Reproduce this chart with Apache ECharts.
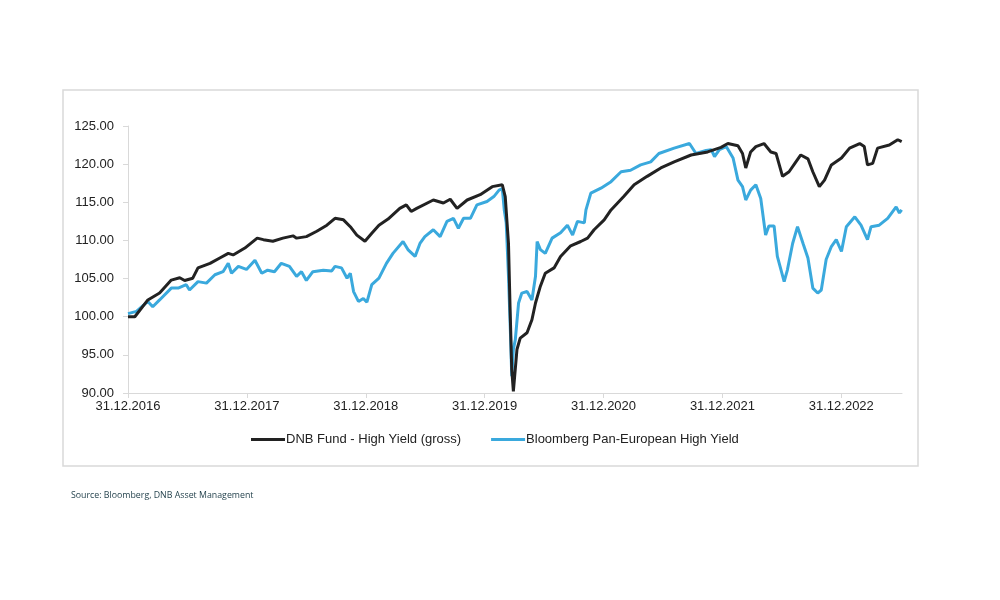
<!DOCTYPE html>
<html>
<head>
<meta charset="utf-8">
<title>DNB Fund - High Yield</title>
<script src="https://cdn.jsdelivr.net/npm/echarts@6/dist/echarts.min.js"></script>
<style>
  html, body { margin: 0; padding: 0; background: #fff; }
  #chart { width: 1000px; height: 600px; }
</style>
</head>
<body>
<div id="chart"></div>
<script>
// --- data ---
const startDate = '2016-12-31';
const endDate = '2023-07-06';

const seriesNames = ['DNB Fund - High Yield (gross)', 'Bloomberg Pan-European High Yield'];

// DNB Fund - High Yield (gross)
const fundSeries = [
    ['2016-12-31', 100.0], ['2017-01-21', 100.0], ['2017-03-02', 102.2], ['2017-04-07', 103.1],
    ['2017-05-13', 104.8], ['2017-06-08', 105.1], ['2017-06-23', 104.75], ['2017-07-18', 105.05],
    ['2017-08-03', 106.4], ['2017-09-09', 107.0], ['2017-10-09', 107.7], ['2017-11-04', 108.3],
    ['2017-11-19', 108.1], ['2017-12-25', 109.0], ['2018-02-01', 110.3], ['2018-02-20', 110.1],
    ['2018-03-21', 109.9], ['2018-04-21', 110.3], ['2018-05-22', 110.6], ['2018-06-02', 110.3],
    ['2018-07-02', 110.5], ['2018-08-03', 111.2], ['2018-09-03', 112.0], ['2018-09-28', 112.9],
    ['2018-10-24', 112.7], ['2018-11-14', 111.8], ['2018-12-04', 110.7], ['2018-12-29', 109.9],
    ['2019-01-19', 110.95], ['2019-02-10', 112.0], ['2019-03-10', 112.8], ['2019-04-15', 114.2],
    ['2019-05-05', 114.66], ['2019-05-20', 113.8], ['2019-06-06', 114.2], ['2019-07-27', 115.3],
    ['2019-08-27', 114.9], ['2019-09-17', 115.4], ['2019-10-08', 114.2], ['2019-11-08', 115.3],
    ['2019-12-18', 116.0], ['2020-01-24', 117.05], ['2020-02-24', 117.3], ['2020-03-04', 115.75],
    ['2020-03-14', 109.6], ['2020-03-19', 100.9], ['2020-03-24', 93.1], ['2020-03-29', 90.2],
    ['2020-04-09', 95.7], ['2020-04-19', 97.2], ['2020-05-10', 97.9], ['2020-05-25', 99.6],
    ['2020-06-05', 101.8], ['2020-06-20', 104.0], ['2020-07-05', 105.7], ['2020-08-01', 106.4],
    ['2020-08-21', 107.9], ['2020-09-21', 109.3], ['2020-10-22', 109.86], ['2020-11-12', 110.3],
    ['2020-12-02', 111.4], ['2021-01-02', 112.7], ['2021-01-23', 114.0], ['2021-03-03', 115.75],
    ['2021-04-04', 117.3], ['2021-05-14', 118.4], ['2021-06-25', 119.5], ['2021-08-05', 120.3],
    ['2021-09-26', 121.2], ['2021-11-16', 121.6], ['2021-12-27', 122.2], ['2022-01-17', 122.7],
    ['2022-02-17', 122.4], ['2022-03-03', 121.4], ['2022-03-13', 119.5], ['2022-03-28', 121.6],
    ['2022-04-13', 122.3], ['2022-05-08', 122.7], ['2022-05-29', 121.6], ['2022-06-14', 121.4],
    ['2022-07-04', 118.4], ['2022-07-24', 119.0], ['2022-08-14', 120.3], ['2022-08-29', 121.2],
    ['2022-09-20', 120.7], ['2022-10-05', 119.0], ['2022-10-25', 117.05], ['2022-11-10', 117.9],
    ['2022-12-01', 119.9], ['2023-01-01', 120.8], ['2023-01-26', 122.1], ['2023-02-26', 122.7],
    ['2023-03-12', 122.3], ['2023-03-22', 119.9], ['2023-04-07', 120.1], ['2023-04-22', 122.1],
    ['2023-05-28', 122.5], ['2023-06-23', 123.2], ['2023-07-05', 122.95]
];

// Bloomberg Pan-European High Yield
const indexSeries = [
    ['2016-12-31', 100.4], ['2017-01-26', 100.7], ['2017-03-02', 102.0], ['2017-03-17', 101.3],
    ['2017-04-07', 102.2], ['2017-05-13', 103.75], ['2017-06-03', 103.75], ['2017-06-28', 104.2],
    ['2017-07-08', 103.5], ['2017-08-03', 104.6], ['2017-08-29', 104.4], ['2017-09-24', 105.5],
    ['2017-10-19', 105.9], ['2017-11-04', 107.0], ['2017-11-14', 105.7], ['2017-12-05', 106.6],
    ['2017-12-30', 106.2], ['2018-01-25', 107.4], ['2018-02-15', 105.7], ['2018-03-05', 106.1],
    ['2018-03-26', 105.9], ['2018-04-16', 107.0], ['2018-05-11', 106.6], ['2018-06-02', 105.3],
    ['2018-06-17', 105.9], ['2018-07-02', 104.75], ['2018-07-22', 105.9], ['2018-08-23', 106.1],
    ['2018-09-18', 106.0], ['2018-09-28', 106.6], ['2018-10-18', 106.4], ['2018-11-04', 105.05],
    ['2018-11-14', 105.7], ['2018-11-24', 103.3], ['2018-12-09', 102.0], ['2018-12-24', 102.4],
    ['2019-01-04', 101.9], ['2019-01-19', 104.2], ['2019-02-10', 105.05], ['2019-03-05', 107.0],
    ['2019-03-25', 108.3], ['2019-04-25', 109.85], ['2019-05-10', 108.8], ['2019-06-01', 107.9],
    ['2019-06-16', 109.6], ['2019-07-01', 110.5], ['2019-07-27', 111.4], ['2019-08-17', 110.5],
    ['2019-09-07', 112.5], ['2019-09-27', 112.9], ['2019-10-12', 111.6], ['2019-10-28', 112.9],
    ['2019-11-18', 112.9], ['2019-12-08', 114.66], ['2020-01-08', 115.1], ['2020-01-29', 115.75],
    ['2020-02-14', 116.6], ['2020-02-24', 116.8], ['2020-03-01', 114.0], ['2020-03-07', 112.3],
    ['2020-03-14', 105.3], ['2020-03-21', 96.6], ['2020-03-24', 92.2], ['2020-03-29', 95.7],
    ['2020-04-04', 97.0], ['2020-04-14', 101.8], ['2020-04-24', 103.1], ['2020-05-10', 103.3],
    ['2020-05-25', 102.2], ['2020-06-05', 105.3], ['2020-06-10', 109.85], ['2020-06-20', 108.8],
    ['2020-07-05', 108.3], ['2020-07-26', 110.3], ['2020-08-21', 111.0], ['2020-09-11', 112.0],
    ['2020-09-27', 110.7], ['2020-10-12', 112.5], ['2020-11-02', 112.3], ['2020-11-07', 114.0],
    ['2020-11-22', 116.2], ['2020-12-23', 116.85], ['2021-01-23', 117.7], ['2021-02-23', 119.0],
    ['2021-03-24', 119.2], ['2021-04-24', 119.9], ['2021-05-25', 120.3], ['2021-06-19', 121.4],
    ['2021-08-05', 122.1], ['2021-09-21', 122.7], ['2021-10-11', 121.4], ['2021-11-11', 121.8],
    ['2021-11-27', 121.9], ['2021-12-07', 121.0], ['2021-12-22', 121.9], ['2022-01-12', 122.3],
    ['2022-02-02', 120.8], ['2022-02-17', 117.9], ['2022-03-03', 117.05], ['2022-03-13', 115.3],
    ['2022-03-28', 116.6], ['2022-04-13', 117.3], ['2022-04-28', 115.5], ['2022-05-13', 110.7],
    ['2022-05-23', 111.9], ['2022-06-08', 111.9], ['2022-06-18', 107.9], ['2022-07-09', 104.6],
    ['2022-07-19', 106.15], ['2022-08-04', 109.6], ['2022-08-19', 111.8], ['2022-09-05', 109.6],
    ['2022-09-20', 107.7], ['2022-10-05', 103.75], ['2022-10-20', 103.1], ['2022-10-31', 103.5],
    ['2022-11-15', 107.5], ['2022-12-01', 109.2], ['2022-12-16', 110.1], ['2023-01-01', 108.55],
    ['2023-01-16', 111.8], ['2023-02-11', 113.1], ['2023-03-02', 112.0], ['2023-03-22', 110.1],
    ['2023-04-02', 111.8], ['2023-04-27', 112.0], ['2023-05-23', 112.9], ['2023-06-18', 114.4],
    ['2023-06-28', 113.6], ['2023-07-05', 114.0]
];

const yMin = 90;
const yMax = 125;
const yStep = 5;

// --- helpers ---
const DAY = 86400000;
const baseTime = Date.parse(startDate + 'T00:00:00Z');

// days since the start date, so the yearly ticks land on 31.12
function toDays(dateStr) {
    return (Date.parse(dateStr + 'T00:00:00Z') - baseTime) / DAY;
}

function formatDate(days) {
    const d = new Date(baseTime + days * DAY);
    const dd = String(d.getUTCDate()).padStart(2, '0');
    const mm = String(d.getUTCMonth() + 1).padStart(2, '0');
    return dd + '.' + mm + '.' + d.getUTCFullYear();
}

const toPoints = (rows) => rows.map(r => [toDays(r[0]), r[1]]);

// --- chart ---
const chart = echarts.init(document.getElementById('chart'));
const fontFamily = '"Liberation Sans", Arial, sans-serif';

chart.setOption({
    backgroundColor: '#fff',
    animation: false,
    textStyle: { fontFamily: fontFamily },
    grid: { left: 128, right: 98, top: 126, bottom: 207, containLabel: false },
    legend: {
        left: 246,
        top: 428,
        icon: 'rect',
        itemWidth: 34,
        itemHeight: 3,
        itemGap: 30,
        textStyle: { color: '#222', fontSize: 13, fontFamily: fontFamily, padding: [0, 0, 0, -4] },
        data: seriesNames
    },
    xAxis: {
        type: 'value',
        min: 0,
        max: toDays(endDate),
        interval: 365.25,
        axisLine: { lineStyle: { color: '#d9d9d9', width: 1 } },
        axisTick: { show: true, length: 5, lineStyle: { color: '#d9d9d9' } },
        axisLabel: {
            color: '#222', fontSize: 13, margin: 7,
            showMaxLabel: false,
            formatter: (v) => formatDate(v)
        },
        splitLine: { show: false }
    },
    yAxis: {
        type: 'value',
        min: yMin,
        max: yMax,
        interval: yStep,
        axisLine: { show: true, lineStyle: { color: '#d9d9d9', width: 1 } },
        axisTick: { show: true, length: 5, lineStyle: { color: '#d9d9d9' } },
        axisLabel: { color: '#222', fontSize: 13, margin: 14, formatter: (v) => v.toFixed(2) },
        splitLine: { show: false }
    },
    series: [
        {
            name: seriesNames[0],
            type: 'line',
            data: toPoints(fundSeries),
            showSymbol: false,
            z: 3,
            itemStyle: { color: '#222222' },
            lineStyle: { color: '#222222', width: 3 }
        },
        {
            name: seriesNames[1],
            type: 'line',
            data: toPoints(indexSeries),
            showSymbol: false,
            z: 2,
            itemStyle: { color: '#3aa9dd' },
            lineStyle: { color: '#3aa9dd', width: 3 }
        }
    ],
    graphic: [
        {
            type: 'rect',
            silent: true,
            shape: { x: 63, y: 90, width: 855, height: 376 },
            style: { fill: 'none', stroke: '#d9d9d9', lineWidth: 1.5 }
        },
        {
            type: 'text',
            left: 71,
            top: 491,
            style: {
                text: 'Source: Bloomberg, DNB Asset Management',
                fill: '#1e3d48',
                fontSize: 8.8,
                fontFamily: '"Open Sans", "Noto Sans", sans-serif'
            }
        }
    ]
});
</script>
</body>
</html>
